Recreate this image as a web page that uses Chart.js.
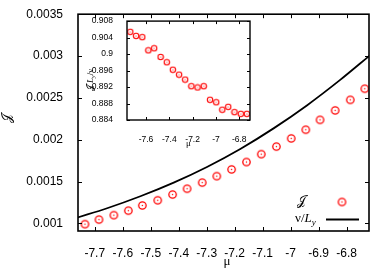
<!DOCTYPE html>
<html>
<head>
<meta charset="utf-8">
<script src="https://cdn.jsdelivr.net/npm/chart.js@4/dist/chart.umd.min.js"></script>
<style>
    html, body { margin: 0; padding: 0; background: #fff; }
    #wrap { position: relative; width: 374px; height: 270px; }
    #main { position: absolute; left: 0; top: 0; }
    #inset { position: absolute; left: 80px; top: 10px; }
</style>
</head>
<body>
<div id="wrap">
    <canvas id="main" width="374" height="270"></canvas>
    <canvas id="inset" width="175" height="145"></canvas>
</div>
<script>
// chemical potential of the data points (shared by both panels)
const mu = [-7.735, -7.685, -7.632, -7.580, -7.530, -7.475, -7.422, -7.370, -7.316, -7.264,
            -7.211, -7.158, -7.105, -7.051, -6.998, -6.946, -6.895, -6.841, -6.787, -6.735];
// current J (main panel, red circles)
const current = [0.000992, 0.001046, 0.001099, 0.001153, 0.001215, 0.001277, 0.001346, 0.001415, 0.001488, 0.001565,
                 0.001646, 0.001734, 0.001828, 0.001918, 0.002016, 0.00212, 0.002238, 0.002351, 0.002477, 0.00261];
// nu / L_y (main panel, black line)
const curveMu = [-7.761, -7.656, -7.537, -7.418, -7.299, -7.18, -7.061, -6.942, -6.823, -6.718];
const curveJ = [0.001072, 0.001182, 0.001325, 0.001488, 0.001675, 0.00189, 0.002136, 0.00241, 0.002715, 0.003005];
// J L_y / nu (inset)
const ratio = [0.9054, 0.9044, 0.9041, 0.9009, 0.9014, 0.8993, 0.8980, 0.8962, 0.8950, 0.8938,
               0.8922, 0.8919, 0.8922, 0.8889, 0.8883, 0.8865, 0.8872, 0.8859, 0.8855, 0.8855];

const xTicks = [-7.7, -7.6, -7.5, -7.4, -7.3, -7.2, -7.1, -7, -6.9, -6.8];
const yTicks = [0.001, 0.0015, 0.002, 0.0025, 0.003, 0.0035];
const insetXTicks = [-7.6, -7.4, -7.2, -7, -6.8];
const insetYTicks = [0.884, 0.888, 0.892, 0.896, 0.9, 0.904, 0.908];

const RED = 'rgb(255,0,0)';
const SANS = '"Liberation Sans", Arial, sans-serif';
const SERIF = '"Liberation Serif", "DejaVu Serif", serif';
const SCRIPT_J = '\u{1D4A5}';

// open circle with a dot, like the gnuplot points
function ringPoint(size, r, lw) {
    const c = document.createElement('canvas');
    c.width = size; c.height = size;
    const g = c.getContext('2d');
    g.strokeStyle = RED; g.fillStyle = RED; g.lineWidth = lw;
    g.beginPath(); g.arc(size / 2, size / 2, r, 0, Math.PI * 2); g.stroke();
    g.beginPath(); g.arc(size / 2, size / 2, lw * 0.55, 0, Math.PI * 2); g.fill();
    return c;
}
const bigRing = ringPoint(11, 3.7, 1.3);
const smallRing = ringPoint(8, 2.7, 1.1);

const fixedTicks = list => scale => { scale.ticks = list.map(v => ({ value: v })); };

// box around the plot with inward ticks on all four sides
const framePlugin = {
    id: 'frame',
    afterDatasetsDraw(chart, args, opts) {
        const { ctx, chartArea: a, scales } = chart;
        const t = opts.tick;
        ctx.save();
        ctx.strokeStyle = '#000';
        ctx.lineWidth = opts.width;
        ctx.strokeRect(a.left, a.top, a.right - a.left, a.bottom - a.top);
        ctx.lineWidth = 1;
        ctx.beginPath();
        scales.x.ticks.forEach(tk => {
            const x = Math.round(scales.x.getPixelForValue(tk.value)) + 0.5;
            ctx.moveTo(x, a.bottom); ctx.lineTo(x, a.bottom - t);
            ctx.moveTo(x, a.top); ctx.lineTo(x, a.top + t);
        });
        scales.y.ticks.forEach(tk => {
            const y = Math.round(scales.y.getPixelForValue(tk.value)) + 0.5;
            ctx.moveTo(a.left, y); ctx.lineTo(a.left + t, y);
            ctx.moveTo(a.right, y); ctx.lineTo(a.right - t, y);
        });
        ctx.stroke();
        ctx.restore();
    }
};

// axis titles and key, drawn in gnuplot positions
const labelsPlugin = {
    id: 'labels',
    afterDraw(chart, args, opts) {
        const ctx = chart.ctx;
        ctx.save();
        ctx.fillStyle = '#000';
        ctx.textAlign = 'center';
        ctx.textBaseline = 'middle';
        if (opts.main) {
            ctx.font = '13px ' + SERIF;
            ctx.fillText('\u03bc', 227, 262);
            ctx.save();
            ctx.translate(8, 118);
            ctx.rotate(-Math.PI / 2);
            ctx.fillText(SCRIPT_J, 0, 0);
            ctx.restore();
            // key
            ctx.fillText(SCRIPT_J, 301, 202);
            ctx.drawImage(bigRing, 342 - 5.5, 202 - 5.5);
            ctx.textAlign = 'left';
            ctx.textBaseline = 'alphabetic';
            ctx.font = '13px ' + SERIF;
            ctx.fillText('\u03bd/', 295, 222);
            let x = 295 + ctx.measureText('\u03bd/').width;
            ctx.font = 'italic 13px ' + SERIF;
            ctx.fillText('L', x, 222);
            x += ctx.measureText('L').width;
            ctx.font = 'italic 9px ' + SERIF;
            ctx.fillText('y', x, 225);
            ctx.strokeStyle = '#000';
            ctx.lineWidth = 1.8;
            ctx.beginPath(); ctx.moveTo(326, 219.5); ctx.lineTo(359, 219.5); ctx.stroke();
        } else {
            ctx.font = '9px ' + SERIF;
            ctx.fillText('\u03bc', 108.5, 134);
            ctx.save();
            ctx.translate(10, 70);
            ctx.rotate(-Math.PI / 2);
            ctx.textAlign = 'left';
            ctx.textBaseline = 'alphabetic';
            const parts = [[SCRIPT_J + ' ', '9px ', 0], ['L', 'italic 9px ', 0], ['y', 'italic 6.5px ', 2], ['/\u03bd', '9px ', 0]];
            let w = 0;
            parts.forEach(p => { ctx.font = p[1] + SERIF; w += ctx.measureText(p[0]).width; });
            let x = -w / 2;
            parts.forEach(p => {
                ctx.font = p[1] + SERIF;
                ctx.fillText(p[0], x, 3 + p[2]);
                x += ctx.measureText(p[0]).width;
            });
            ctx.restore();
        }
        ctx.restore();
    }
};

Chart.defaults.animation = false;
Chart.defaults.responsive = false;
Chart.defaults.color = '#000';

new Chart(document.getElementById('main'), {
    type: 'scatter',
    data: {
        datasets: [{
            data: mu.map((m, i) => ({ x: m, y: current[i] })),
            pointStyle: bigRing,
            pointRadius: 4
        }, {
            type: 'line',
            data: curveMu.map((m, i) => ({ x: m, y: curveJ[i] })),
            borderColor: '#000',
            borderWidth: 1.8,
            pointRadius: 0,
            cubicInterpolationMode: 'monotone'
        }]
    },
    options: {
        layout: { padding: { top: 6, right: 3, left: 0, bottom: 0 } },
        plugins: {
            legend: { display: false }, tooltip: { enabled: false },
            frame: { tick: 4, width: 1.6 },
            labels: { main: true }
        },
        scales: {
            x: {
                type: 'linear', min: -7.76, max: -6.72,
                afterBuildTicks: fixedTicks(xTicks),
                afterFit: s => { s.height = 39; },
                grid: { display: false }, border: { display: false },
                ticks: { padding: 7, font: { family: SANS, size: 12 }, callback: v => String(v) }
            },
            y: {
                min: 0.00091, max: 0.0035,
                afterBuildTicks: fixedTicks(yTicks),
                afterFit: s => { s.width = 78; },
                grid: { display: false }, border: { display: false },
                ticks: { padding: 7, font: { family: SANS, size: 12 }, callback: v => String(v) }
            }
        }
    },
    plugins: [framePlugin, labelsPlugin]
});

new Chart(document.getElementById('inset'), {
    type: 'scatter',
    data: {
        datasets: [{
            data: mu.map((m, i) => ({ x: m, y: ratio[i] })),
            pointStyle: smallRing,
            pointRadius: 3
        }]
    },
    options: {
        layout: { padding: { top: 10, right: 5, left: 0, bottom: 0 } },
        plugins: {
            legend: { display: false }, tooltip: { enabled: false },
            frame: { tick: 3, width: 1.4 },
            labels: { main: false }
        },
        scales: {
            x: {
                type: 'linear', min: -7.763, max: -6.708,
                afterBuildTicks: fixedTicks(insetXTicks),
                afterFit: s => { s.height = 35; },
                grid: { display: false }, border: { display: false },
                ticks: { padding: 7, font: { family: SANS, size: 8.5 }, callback: v => String(v) }
            },
            y: {
                min: 0.884, max: 0.908,
                afterBuildTicks: fixedTicks(insetYTicks),
                afterFit: s => { s.width = 47; },
                grid: { display: false }, border: { display: false },
                ticks: { padding: 6, font: { family: SANS, size: 8.5 }, callback: v => String(v) }
            }
        }
    },
    plugins: [framePlugin, labelsPlugin]
});
</script>
</body>
</html>
